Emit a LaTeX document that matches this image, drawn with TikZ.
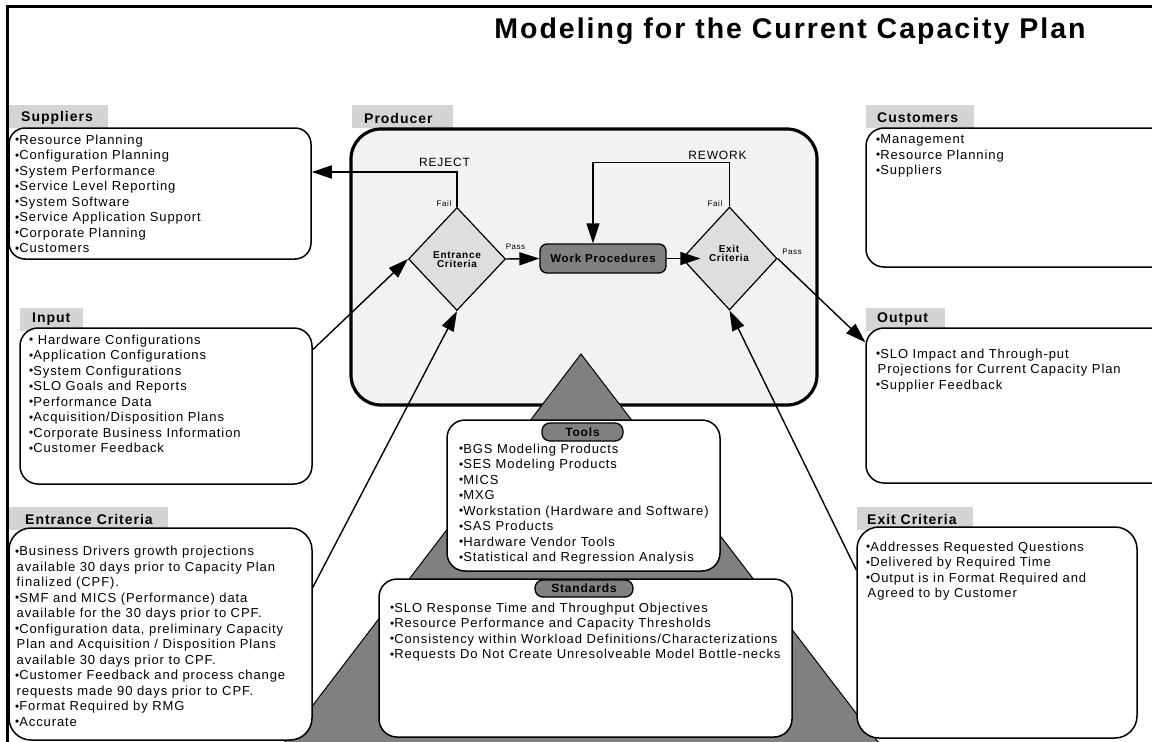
\documentclass[tikz,border=0pt]{standalone}
\usepackage{fontspec}
\setmainfont{Liberation Sans}[LetterSpace=7]
\usetikzlibrary{arrows.meta,shapes.geometric}

\definecolor{tabgray}{HTML}{D4D4D4}
\definecolor{prodfill}{HTML}{F2F2F2}
\definecolor{diafill}{HTML}{DEDEDE}
\definecolor{darkfill}{HTML}{808080}

\newcommand\blt{\raisebox{0.4pt}{\scalebox{0.9}{\textbullet}}}
\newcommand\cont{\hspace*{1.5pt}}

\tikzset{
  tab/.style={fill=tabgray, draw=none, inner sep=0},
  box/.style={draw, line width=1.5pt, fill=white, rounded corners=18pt, inner sep=0},
  body/.style={font=\fontsize{13}{15.5}\selectfont, align=left, anchor=north west, inner sep=0},
  head/.style={font=\fontsize{14}{16}\selectfont\bfseries, anchor=west, inner sep=0},
  small/.style={font=\fontsize{8}{9}\selectfont, inner sep=0},
  flowlbl/.style={font=\fontsize{12}{14}\selectfont, inner sep=0},
  pill/.style={draw, fill=darkfill, line width=1.3pt, rounded corners=8pt, inner sep=0,
               font=\fontsize{12}{14}\selectfont\bfseries},
  decision/.style={diamond, draw, fill=diafill, line width=1.2pt, inner sep=0},
  dtext/.style={font=\fontsize{10}{9}\selectfont\bfseries, align=center, inner sep=0},
  conn/.style={line width=1.4pt, -{Triangle[length=20pt,width=13pt]}},
}

\begin{document}
\begin{tikzpicture}[x=1pt,y=-1pt]
\clip (0,0) rectangle (1152,742);
\fill[white] (0,0) rectangle (1152,742);

% page frame
\draw[line width=3pt] (7,800) -- (7,6) -- (1200,6);

% title
\node[font=\fontsize{28.5}{32}\selectfont\bfseries, anchor=base, inner sep=0] (title) at (790,38)
  {Modeling for the Current Capacity Plan};

% header tabs
\node[tab, minimum width=99pt, minimum height=23pt] (suptab) at (58.5,116.5) {};
\node[tab, minimum width=63pt, minimum height=23pt] (inptab) at (51.5,319.5) {};
\node[tab, minimum width=159pt, minimum height=23pt] (ectab) at (88.5,518.5) {};
\node[tab, minimum width=101pt, minimum height=23pt] (prodtab) at (402.5,116.5) {};
\node[tab, minimum width=108pt, minimum height=23pt] (custab) at (920,116.5) {};
\node[tab, minimum width=79pt, minimum height=23pt] (outtab) at (905.5,319.5) {};
\node[tab, minimum width=116pt, minimum height=23pt] (xctab) at (915,518.5) {};

\node[head] at (21,118) {Suppliers};
\node[head] at (32,319) {Input};
\node[head] at (25,519) {Entrance Criteria};
\node[head] at (364,118) {Producer};
\node[head] at (877,118) {Customers};
\node[head] at (877,319) {Output};
\node[head] at (867,519) {Exit Criteria};

% list boxes on the left and right
\node[box, rounded corners=16pt, minimum width=302pt, minimum height=131pt] (sup) at (160,193.5) {};
\node[box, minimum width=292pt, minimum height=156pt] (inp) at (166,406) {};
\node[box, minimum width=304pt, minimum height=139pt] (cus) at (1018,197.5) {};
\node[box, minimum width=304pt, minimum height=155pt] (out) at (1018,405.5) {};

% producer area
\node[draw, fill=prodfill, line width=3.2pt, rounded corners=30pt, inner sep=0,
      minimum width=466pt, minimum height=276pt] (prod) at (584,267) {};

% supporting pyramid
\filldraw[fill=darkfill, line width=1pt] (581,354) -- (268,764) -- (895,764) -- cycle;

% tools and standards
\node[box, minimum width=273pt, minimum height=151pt] (tools) at (583.5,495.5) {};
\node[pill, minimum width=81pt, minimum height=18pt] (toolslbl) at (582.5,432) {Tools};
\node[box, minimum width=413pt, minimum height=158pt] (std) at (585.5,658) {};
\node[pill, minimum width=98pt, minimum height=17pt] (stdlbl) at (584,588.5) {Standards};

% criteria boxes
\node[box, rounded corners=22pt, minimum width=303pt, minimum height=212pt] (ec) at (160.5,634) {};
\node[box, rounded corners=22pt, minimum width=280pt, minimum height=211pt] (xc) at (997,632.5) {};

% list texts
\node[body] (suptxt) at (15,134.6) {\blt Resource Planning\\ \blt Configuration Planning\\ \blt System Performance\\ \blt Service Level Reporting\\ \blt System Software\\ \blt Service Application Support\\ \blt Corporate Planning\\ \blt Customers};
\node[body] (inptxt) at (29,334.6) {\blt\ Hardware Configurations\\ \blt Application Configurations\\ \blt System Configurations\\ \blt SLO Goals and Reports\\ \blt Performance Data\\ \blt Acquisition/Disposition Plans\\ \blt Corporate Business Information\\ \blt Customer Feedback};
\node[body] (ectxt) at (15,546) {\blt Business Drivers growth projections\\ \cont available 30 days prior to Capacity Plan\\ \cont finalized (CPF).\\ \blt SMF and MICS (Performance) data\\ \cont available for the 30 days prior to CPF.\\ \blt Configuration data, preliminary Capacity\\ \cont Plan and Acquisition / Disposition Plans\\ \cont available 30 days prior to CPF.\\ \blt Customer Feedback and process change\\ \cont requests made 90 days prior to CPF.\\ \blt Format Required by RMG\\ \blt Accurate};
\node[body] (custxt) at (876,134.6) {\blt Management\\ \blt Resource Planning\\ \blt Suppliers};
\node[body] (outtxt) at (876,348.6) {\blt SLO Impact and Through-put\\ \cont Projections for Current Capacity Plan\\ \blt Supplier Feedback};
\node[body] (xctxt) at (866,541.6) {\blt Addresses Requested Questions\\ \blt Delivered by Required Time\\ \blt Output is in Format Required and\\ \cont Agreed to by Customer};
\node[body] (toolstxt) at (459,443.6) {\blt BGS Modeling Products\\ \blt SES Modeling Products\\ \blt MICS\\ \blt MXG\\ \blt Workstation (Hardware and Software)\\ \blt SAS Products\\ \blt Hardware Vendor Tools\\ \blt Statistical and Regression Analysis};
\node[body] (stdtxt) at (390,602.6) {\blt SLO Response Time and Throughput Objectives\\ \blt Resource Performance and Capacity Thresholds\\ \blt Consistency within Workload Definitions/Characterizations\\ \blt Requests Do Not Create Unresolveable Model Bottle-necks};

% decisions and work step
\node[decision, minimum width=97pt, minimum height=103pt] (entd) at (457,259) {};
\node[dtext] at (457,260) {Entrance\\Criteria};
\node[decision, minimum width=95pt, minimum height=103pt] (exd) at (729.5,258.5) {};
\node[dtext] at (729,253) {Exit\\Criteria};
\node[draw, fill=darkfill, line width=1.3pt, rounded corners=7pt, inner sep=0,
      minimum width=126pt, minimum height=29pt, font=\fontsize{11.5}{13}\selectfont\bfseries]
      (wp) at (603,258.5) {Work Procedures};

% flow labels
\node[flowlbl] at (444.5,162) {REJECT};
\node[flowlbl] at (717.5,155) {REWORK};
\node[small] at (444,204) {Fail};
\node[small] at (715,204) {Fail};
\node[small] at (515.5,247) {Pass};
\node[small] at (792,252) {Pass};

% connectors
\draw[conn] (entd.north) |- (sup.east |- 0,172);
\draw[conn] (exd.north) -- ++(0,-44) -| ([xshift=-10pt]wp.north);
\draw[conn] (entd.east) -- (wp.west);
\draw[conn] (wp.east) -- ([xshift=19pt]exd.west);
\draw[conn] (exd.east) -- ([yshift=-15pt]out.north west);
\draw[conn] (inp.21) -- (entd.west);
\draw[conn] (ec.17) -- (entd.south);
\draw[conn] (xc.156) -- (exd.south);
\end{tikzpicture}
\end{document}
